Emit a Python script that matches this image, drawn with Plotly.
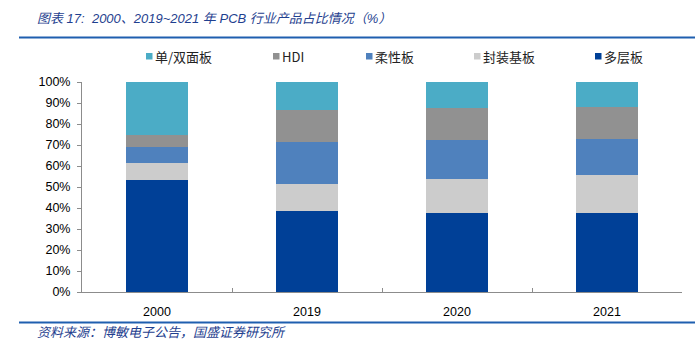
import plotly.graph_objects as go

years = ["2000", "2019", "2020", "2021"]
series_names = ["多层板", "封装基板", "柔性板", "HDI", "单/双面板"]
multilayer = [53.2, 38.4, 37.6, 37.6]
package = [8.0, 13.0, 16.1, 18.0]
flex = [8.0, 20.0, 18.8, 17.1]
hdi = [5.6, 15.3, 15.3, 15.3]
single_double = [25.2, 13.3, 12.2, 12.0]
colors = ["#004097", "#CCCCCC", "#4F81BD", "#919191", "#4BACC6"]

values = [multilayer, package, flex, hdi, single_double]

W, H = 695, 343
ML, MR, MT, MB = 82, 13, 82, 51
PW, PH = W - ML - MR, H - MT - MB


def px_x(px):
    return (px - ML) / PW


def px_y(py):
    return (H - MB - py) / PH


fig = go.Figure()
for name, vals, col in zip(series_names, values, colors):
    fig.add_trace(go.Bar(
        x=years, y=vals, name=name,
        marker=dict(color=col, line=dict(width=0)),
        width=0.41, showlegend=False,
    ))

fig.update_layout(
    width=W, height=H,
    margin=dict(l=ML, r=MR, t=MT, b=MB, autoexpand=False),
    paper_bgcolor="white", plot_bgcolor="white",
    barmode="stack",
    showlegend=False,
    xaxis=dict(
        showline=True, linecolor="#8C8C8C", linewidth=1,
        ticks="inside", tickson="boundaries", ticklen=4, tickcolor="#8C8C8C",
        tickfont=dict(family="Liberation Sans, Arial", size=12.5, color="#000"),
        ticklabelstandoff=8,
        showgrid=False,
    ),
    yaxis=dict(
        range=[0, 100], tickvals=list(range(0, 101, 10)),
        ticktext=[f"{v}%" for v in range(0, 101, 10)],
        showline=True, linecolor="#8C8C8C", linewidth=1,
        ticks="outside", ticklen=4, tickcolor="#8C8C8C",
        tickfont=dict(family="Liberation Sans, Arial", size=12.5, color="#000"),
        ticklabelstandoff=4,
        showgrid=False, zeroline=False,
    ),
    font=dict(family="Noto Sans CJK SC"),
)

# legend (display order left to right)
legend_order = [4, 3, 2, 1, 0]
legend_sq_x = [146, 273, 366, 474, 595]
for idx, sx in zip(legend_order, legend_sq_x):
    fig.add_shape(type="rect", xref="paper", yref="paper",
                  x0=px_x(sx), x1=px_x(sx + 6.5),
                  y0=px_y(59.5), y1=px_y(53),
                  fillcolor=colors[idx], line=dict(width=0))
    fig.add_annotation(text=series_names[idx], xref="paper", yref="paper",
                       x=px_x(sx + 7), y=px_y(56.5), xanchor="left", yanchor="middle",
                       showarrow=False,
                       font=dict(family="Noto Sans CJK SC", size=13, color="#222"))

fig.add_annotation(
    text="<i>图表 17:  2000、2019~2021 年 PCB 行业产品占比情况（%）</i>",
    xref="paper", yref="paper", x=px_x(35), y=px_y(19),
    xanchor="left", yanchor="middle", showarrow=False,
    font=dict(family="Liberation Sans, Noto Sans CJK SC", size=13, color="#1F3F8F"),
)
fig.add_annotation(
    text="<i>资料来源：博敏电子公告，国盛证券研究所</i>",
    xref="paper", yref="paper", x=px_x(35), y=px_y(331),
    xanchor="left", yanchor="middle", showarrow=False,
    font=dict(family="Noto Sans CJK SC", size=13, color="#1F3F8F"),
)

for yy in (37.5, 322.5):
    fig.add_shape(type="line", xref="paper", yref="paper",
                  x0=px_x(19), x1=px_x(695),
                  y0=px_y(yy), y1=px_y(yy),
                  line=dict(color="#1F5FAF", width=2))

fig.write_html("out.html")
